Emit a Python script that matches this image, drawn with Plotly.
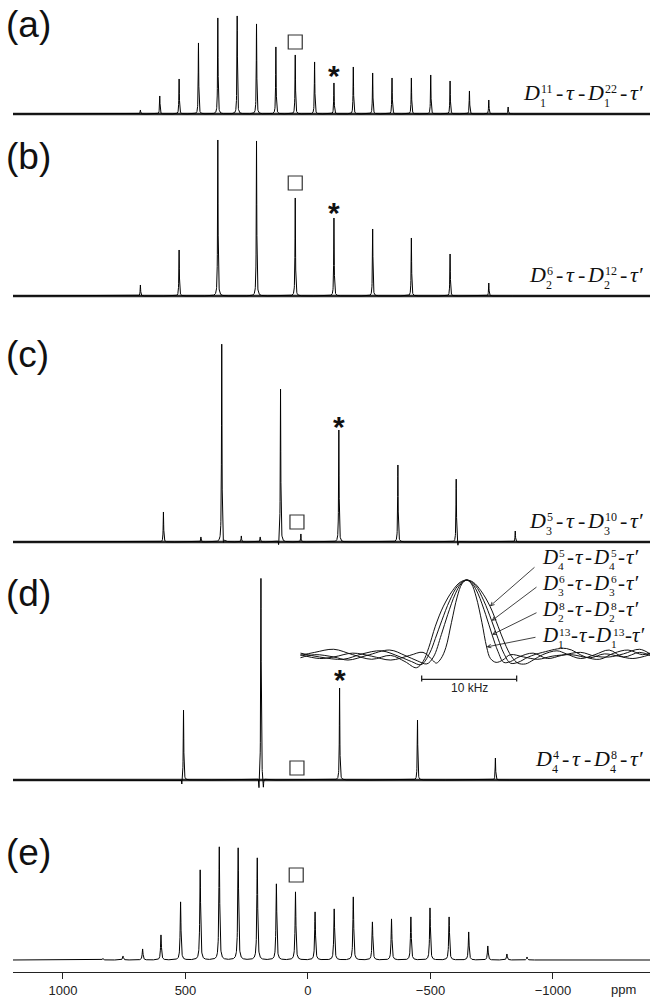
import numpy as np
import plotly.graph_objects as go

# ---------------- data ----------------
tick_vals = [1000, 500, 0, -500, -1000]

a_ppm = [684, 605, 526, 447, 368, 289, 210, 131, 52, -27, -106, -185, -264,
         -343, -422, -501, -580, -659, -738, -817]
a_int = [4, 18, 35, 71, 96, 98, 90, 67, 59, 52, 31, 47, 41, 36, 36, 39, 33,
         23, 14, 7]

b_ppm = [684, 526, 368, 210, 52, -106, -264, -422, -580, -738]
b_int = [11, 46, 156, 155, 98, 78, 67, 58, 42, 13]

c_ppm = [590, 437, 352, 345, 272, 195, 120, 112, 29, -126, -367, -605, -612, -846]
c_int = [30, 5, 198, -6, 6, 5, -6, 153, 8, 112, 77, 63, -5, 11]

d_ppm = [515, 508, 200, 192, 182, -129, -447, -765]
d_int = [-6, 70, -12, 202, -10, 92, 60, 22]

e_ppm = [837, 755, 675, 600, 520, 440, 362, 285, 207, 129, 51, -29, -107,
         -185, -263, -341, -420, -498, -576, -656, -734, -812, -894]
e_int = [1.5, 4, 11, 25, 58, 90, 113, 112, 102, 76, 68, 48, 51, 63, 38, 41,
         43, 52, 43, 28, 14, 6, 3]

panel_keys = ["a", "b", "c", "d", "e"]
square_ppm = [52, 52, 45, 45, 48]
square_y = [72, 113, 20, 12, 85]
star_ppm = [-106, -106, -126, -129]
star_y = [45, 90, 122, 107]

# pulse-sequence labels: (sup1, sub1, sup2, sub2)
seq_main = [("11", "1", "22", "1"), ("6", "2", "12", "2"),
            ("5", "3", "10", "3"), ("4", "4", "8", "4")]
seq_inset = [("5", "4", "5", "4"), ("6", "3", "6", "3"),
             ("8", "2", "8", "2"), ("13", "1", "13", "1")]

# inset curves (offset in kHz, normalised intensity)
inset_k1 = [-17.5, -16, -14, -12, -10, -8, -6.5, -5.3, -4.6, -4.0, -3.3, -2.45,
            -1.5, -0.7, 0, 0.7, 1.5, 2.45, 3.3, 4.0, 4.7, 5.4, 6.2, 7.0, 8,
            9.5, 10.5, 12, 13.5, 15, 16.5, 18.2, 19.3]
inset_v1 = [0.02, 0.06, 0.10, 0.03, -0.03, 0.02, -0.06, -0.14, -0.06, 0.12,
            0.40, 0.66, 0.86, 0.97, 1.0, 0.97, 0.86, 0.66, 0.40, 0.18, 0.01,
            -0.08, -0.09, -0.04, 0.03, 0.08, 0.04, -0.02, 0.03, 0.09, 0.0,
            0.06, 0.02]
inset_k2 = [-17.5, -15.5, -13, -11, -9, -7, -5.8, -4.8, -3.9, -3.3, -2.63,
            -1.8, -0.9, 0, 0.9, 1.8, 2.63, 3.3, 3.9, 4.6, 5.4, 6.5, 8, 10.5,
            12.5, 14, 15.5, 17, 18.5, 19.3]
inset_v2 = [0.05, 0.0, -0.03, 0.04, 0.08, 0.0, -0.06, -0.10, 0.05, 0.24,
            0.47, 0.73, 0.93, 1.0, 0.93, 0.73, 0.47, 0.24, 0.05, -0.08,
            -0.07, 0.0, 0.06, 0.11, 0.0, -0.03, 0.05, 0.09, 0.03, 0.05]
inset_k3 = [-17.5, -16, -14, -12.5, -10.5, -8.1, -6.5, -5.2, -4.2, -3.5,
            -2.67, -2.0, -1.2, -0.6, 0, 0.6, 1.2, 2.0, 2.67, 3.3, 3.9, 4.6,
            5.5, 7, 8.5, 10, 12, 13.5, 15, 16.5, 18.2, 19.3]
inset_v3 = [-0.01, 0.03, 0.0, -0.04, 0.02, 0.09, 0.02, -0.05, -0.09, 0.0,
            0.29, 0.55, 0.82, 0.95, 1.0, 0.95, 0.82, 0.55, 0.29, 0.07, -0.07,
            -0.06, 0.0, 0.05, -0.02, 0.02, 0.06, 0.01, 0.0, 0.04, 0.10, 0.04]
inset_k4 = [-17.5, -15.5, -14, -12, -10, -8, -6, -4.6, -3.6, -3.2, -2.7,
            -2.2, -1.6, -1.0, -0.5, 0, 0.5, 1.0, 1.6, 2.1, 2.5, 3.1, 3.8, 4.6,
            6, 7.5, 9, 11, 13, 14.5, 16, 17.5, 19.3]
inset_v4 = [0.03, -0.02, 0.0, 0.05, 0.01, -0.04, 0.02, 0.06, -0.04, -0.08,
            -0.02, 0.12, 0.45, 0.78, 0.95, 1.0, 0.95, 0.78, 0.45, 0.13, -0.02,
            -0.07, -0.04, 0.03, 0.0, -0.03, 0.01, 0.03, -0.01, 0.04, 0.01,
            -0.02, 0.03]
arrow_k = [2.45, 2.63, 2.67, 2.1]
arrow_v = [0.66, 0.47, 0.29, 0.13]
scale_khz = 10

# ---------------- geometry / styling ----------------
W_FIG, H_FIG, MB = 650, 999, 27
PH = H_FIG - MB


def px2x(px):
    return px / W_FIG


def py2y(py):
    return 1 - py / PH


# baseline, top and bottom (pixels) of each stacked panel
geom = [(114, 0, 140), (296, 125, 320), (542, 330, 560), (780, 560, 800),
        (960, 830, PH)]
label_cy = [28, 159, 357, 596, 855]

grid = np.arange(1210.0, -1400.0, -0.5)


def spectrum(ppm, inten, w):
    p = np.asarray(ppm, float)[:, None]
    h = np.asarray(inten, float)[:, None]
    return (h * w ** 2 / ((grid[None, :] - p) ** 2 + w ** 2)).sum(axis=0)


SERIF = "Liberation Serif"
SANS = "Liberation Sans"
INK = "#111111"

fig = go.Figure()
annotations = []
shapes = []
layout = dict(width=W_FIG, height=H_FIG,
              margin=dict(l=0, r=0, t=0, b=MB, pad=0),
              paper_bgcolor="white", plot_bgcolor="rgba(0,0,0,0)",
              showlegend=False)

layout["xaxis"] = dict(domain=[13 / W_FIG, 1], range=[1204, -1396],
                       anchor="free", position=0, showline=True,
                       linecolor="#222", linewidth=1, ticks="outside",
                       ticklen=6, tickwidth=1, tickcolor="#222",
                       tickvals=tick_vals, showgrid=False, zeroline=False,
                       tickfont=dict(family=SANS, size=13, color="#222"),
                       fixedrange=True)

series = [(a_ppm, a_int, 1.2), (b_ppm, b_int, 1.2), (c_ppm, c_int, 1.2),
          (d_ppm, d_int, 1.2), (e_ppm, e_int, 2.0)]

for i, key in enumerate(panel_keys):
    yname = "y" if i == 0 else "y%d" % (i + 1)
    base, top, bot = geom[i]
    layout["yaxis" if i == 0 else "yaxis%d" % (i + 1)] = dict(
        domain=[py2y(bot), py2y(top)], range=[base - bot, base - top],
        visible=False, anchor="x", fixedrange=True)
    ppm, inten, w = series[i]
    if key != "e":
        fig.add_trace(go.Scatter(x=[grid[0], grid[-1]], y=[0, 0], mode="lines",
                                 line=dict(color="#2b2b2b", width=2.4),
                                 xaxis="x", yaxis=yname, hoverinfo="skip"))
    fig.add_trace(go.Scatter(x=grid, y=spectrum(ppm, inten, w), mode="lines",
                             line=dict(color="#000000", width=1),
                             xaxis="x", yaxis=yname, hoverinfo="skip"))
    fig.add_trace(go.Scatter(x=[square_ppm[i]], y=[square_y[i]], mode="markers",
                             marker=dict(symbol="square-open", size=14,
                                         color="#333",
                                         line=dict(width=1.2, color="#333")),
                             cliponaxis=False, xaxis="x", yaxis=yname,
                             hoverinfo="skip"))
    if i < len(star_ppm):
        annotations.append(dict(x=star_ppm[i], y=star_y[i], xref="x",
                                yref=yname, text="*", showarrow=False,
                                yshift=-6.7, borderpad=0,
                                font=dict(family=SANS, size=30, color=INK,
                                          weight="bold")))
    # panel letter
    annotations.append(dict(x=px2x(5), y=py2y(label_cy[i] - 3), xref="paper",
                            yref="paper", xanchor="left", yanchor="middle",
                            text="(%s)" % key, showarrow=False, borderpad=0,
                            font=dict(family=SANS, size=37, color=INK)))

# ---- pulse sequence labels with stacked sub/superscripts ----
CW = {"D": 0.722, "-": 0.333, "τ": 0.44, "τ′": 0.70}


def seq_tokens(s1, b1, s2, b2):
    return [("t", "D"), ("s", s1, b1), ("t", "-"), ("t", "τ"), ("t", "-"),
            ("t", "D"), ("s", s2, b2), ("t", "-"), ("t", "τ′")]


def add_seq(tokens, base_py, S=22, ss=12, sup_off=7.0, sub_off=6.6, gap=2.5,
            left=None, right=None):
    widths = []
    for tok in tokens:
        if tok[0] == "t":
            widths.append(CW[tok[1]] * S)
        else:
            widths.append(max(len(tok[1]), len(tok[2])) * 0.5 * ss + 2.0)
    gaps = []
    for j in range(len(tokens)):
        if j == len(tokens) - 1:
            gaps.append(0)
        elif tokens[j] == ("t", "D"):
            gaps.append(0.5)
        else:
            gaps.append(gap)
    total = sum(widths) + sum(gaps)
    x = left if left is not None else right - total
    for tok, wdt, g in zip(tokens, widths, gaps):
        if tok[0] == "t":
            italic = tok[1] != "-"
            annotations.append(dict(
                x=px2x(x), y=py2y(base_py - 0.3375 * S), xref="paper",
                yref="paper", xanchor="left", yanchor="middle", text=tok[1],
                showarrow=False, borderpad=0,
                font=dict(family=SERIF, size=S, color=INK,
                          style="italic" if italic else "normal")))
        else:
            annotations.append(dict(
                x=px2x(x + 1.5), y=py2y(base_py - sup_off - 0.3375 * ss),
                xref="paper", yref="paper", xanchor="left", yanchor="middle",
                text=tok[1], showarrow=False, borderpad=0,
                font=dict(family=SERIF, size=ss, color=INK)))
            annotations.append(dict(
                x=px2x(x), y=py2y(base_py + sub_off - 0.3375 * ss),
                xref="paper", yref="paper", xanchor="left", yanchor="middle",
                text=tok[2], showarrow=False, borderpad=0,
                font=dict(family=SERIF, size=ss, color=INK)))
        x += wdt + g


main_base = [100, 282, 528, 766]
for s, b in zip(seq_main, main_base):
    add_seq(seq_tokens(*s), b, S=22, right=644, gap=2.3)

inset_base = [564, 590, 616.5, 642.2]
inset_gap = [1.2, 1.2, 1.2, 0.3]
for s, b, g in zip(seq_inset, inset_base, inset_gap):
    add_seq(seq_tokens(*s), b, S=21, ss=11.4, sup_off=6.8, sub_off=5.8,
            left=541, gap=g)

# ---- inset ----
layout["xaxis2"] = dict(domain=[300 / W_FIG, 1], range=[-17.55, 19.3],
                        visible=False, anchor="y6", fixedrange=True)
layout["yaxis6"] = dict(domain=[py2y(681.6), py2y(575.4)], range=[-0.32, 1.06],
                        visible=False, anchor="x2", fixedrange=True)
for kk, vv in [(inset_k1, inset_v1), (inset_k2, inset_v2),
               (inset_k3, inset_v3), (inset_k4, inset_v4)]:
    fig.add_trace(go.Scatter(x=kk, y=vv, mode="lines",
                             line=dict(color=INK, width=1, shape="spline",
                                       smoothing=1.0),
                             xaxis="x2", yaxis="y6", hoverinfo="skip"))

tails = [(536, 566), (538, 586), (538, 612), (537, 637)]
for hk, hv, (tx, ty) in zip(arrow_k, arrow_v, tails):
    hx = 466.7 + 9.5 * hk
    hy = 657 - 77 * hv
    annotations.append(dict(x=hk, y=hv, xref="x2", yref="y6", text="",
                            showarrow=True, arrowhead=5, arrowsize=0.9,
                            arrowwidth=0.8, arrowcolor=INK, standoff=0,
                            ax=tx - hx, ay=ty - hy))

bar_k0 = -4.74
bar_k1 = bar_k0 + scale_khz
bar_v = -0.29
shapes.append(dict(type="line", xref="x2", yref="y6", x0=bar_k0, x1=bar_k1,
                   y0=bar_v, y1=bar_v, line=dict(color="#222", width=1.3)))
for kx in (bar_k0, bar_k1):
    shapes.append(dict(type="line", xref="x2", yref="y6", x0=kx, x1=kx,
                       y0=bar_v - 0.05, y1=bar_v + 0.05,
                       line=dict(color="#222", width=1.3)))
bar_center_px = 466.7 + 9.5 * (bar_k0 + bar_k1) / 2
annotations.append(dict(x=px2x(bar_center_px), y=py2y(688), xref="paper",
                        yref="paper", text="%d kHz" % scale_khz,
                        showarrow=False, borderpad=0, yanchor="middle",
                        xanchor="center",
                        font=dict(family=SANS, size=12, color="#222")))

# axis unit
annotations.append(dict(x=px2x(637), y=py2y(989.5), xref="paper", yref="paper",
                        text="ppm", showarrow=False, borderpad=0,
                        yanchor="middle",
                        font=dict(family=SANS, size=13, color="#222")))

layout["annotations"] = annotations
layout["shapes"] = shapes
fig.update_layout(**layout)

fig.write_html("out.html", config={"displayModeBar": False},
               post_script="document.body.style.margin='0px';")
